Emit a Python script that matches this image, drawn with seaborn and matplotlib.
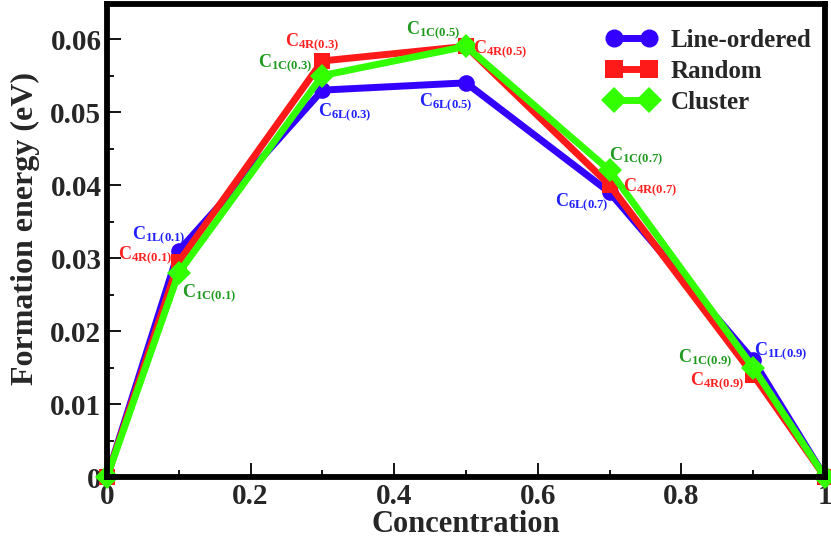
import numpy as np
import pandas as pd
import seaborn as sns
import matplotlib
matplotlib.use("Agg")
import matplotlib.pyplot as plt
from matplotlib.ticker import MultipleLocator, FixedLocator

# Formation energies (eV) versus concentration for the three configurations
concentration = [0.0, 0.1, 0.3, 0.5, 0.7, 0.9, 1.0]
line_ordered = [0.0, 0.031, 0.053, 0.054, 0.039, 0.016, 0.0]
random_cfg = [0.0, 0.0295, 0.057, 0.059, 0.040, 0.014, 0.0]
cluster_cfg = [0.0, 0.028, 0.055, 0.059, 0.042, 0.015, 0.0]

series_names = ["Line-ordered", "Random", "Cluster"]
line_colors = {"Line-ordered": "#3300ff", "Random": "#ff1a1a", "Cluster": "#33ff00"}
text_colors = {"Line-ordered": "#2222ff", "Random": "#ff2222", "Cluster": "#1f9a1f"}
markers = {"Line-ordered": "o", "Random": "s", "Cluster": "D"}

x_ticks = [0, 0.2, 0.4, 0.6, 0.8, 1.0]
x_tick_labels = ["0", "0.2", "0.4", "0.6", "0.8", "1"]
y_ticks = [0, 0.01, 0.02, 0.03, 0.04, 0.05, 0.06]
y_tick_labels = ["0", "0.01", "0.02", "0.03", "0.04", "0.05", "0.06"]

# Point labels: (series, concentration, label, offset in pixels)
point_labels = [
    ("Line-ordered", 0.1, "1L(0.1)", (-20, 16)),
    ("Random", 0.1, "4R(0.1)", (-34, 6)),
    ("Cluster", 0.1, "1C(0.1)", (30, -21)),
    ("Random", 0.3, "4R(0.3)", (-10, 19)),
    ("Cluster", 0.3, "1C(0.3)", (-37, 12)),
    ("Line-ordered", 0.3, "6L(0.3)", (22, -22)),
    ("Cluster", 0.5, "1C(0.5)", (-33, 16)),
    ("Random", 0.5, "4R(0.5)", (34, -3)),
    ("Line-ordered", 0.5, "6L(0.5)", (-20, -19)),
    ("Cluster", 0.7, "1C(0.7)", (26, 14)),
    ("Random", 0.7, "4R(0.7)", (40, -2)),
    ("Line-ordered", 0.7, "6L(0.7)", (-28, -10)),
    ("Line-ordered", 0.9, "1L(0.9)", (28, 9)),
    ("Cluster", 0.9, "1C(0.9)", (-48, 9)),
    ("Random", 0.9, "4R(0.9)", (-36, -6)),
]

values = {"Line-ordered": line_ordered, "Random": random_cfg, "Cluster": cluster_cfg}
df = pd.DataFrame({
    "Concentration": concentration * 3,
    "Energy": line_ordered + random_cfg + cluster_cfg,
    "Configuration": [n for n in series_names for _ in concentration],
})

sns.set_theme(style="white")
plt.rcParams["font.family"] = ["Liberation Serif", "DejaVu Serif"]
plt.rcParams["font.weight"] = "bold"
plt.rcParams["mathtext.fontset"] = "custom"
plt.rcParams["mathtext.rm"] = "Liberation Serif:bold"
plt.rcParams["mathtext.it"] = "Liberation Serif:bold"
plt.rcParams["mathtext.bf"] = "Liberation Serif:bold"

fig = plt.figure(figsize=(8.31, 5.42), dpi=100)
ax = fig.add_axes([107 / 831, 1 - 477 / 542, (825 - 107) / 831, (477 - 4) / 542])

sns.lineplot(
    data=df, x="Concentration", y="Energy", hue="Configuration", style="Configuration",
    hue_order=series_names, style_order=series_names, palette=line_colors,
    markers=markers, dashes=False, linewidth=5, markersize=12,
    markeredgewidth=0, ax=ax, clip_on=False, legend=True,
)

for name, xv, lab, off in point_labels:
    yv = values[name][concentration.index(xv)]
    ax.annotate(
        r"C$_{\mathrm{%s}}$" % lab, xy=(xv, yv), xytext=off, textcoords="offset pixels",
        ha="center", va="center", fontsize=13, fontweight="bold", color=text_colors[name],
    )

ax.set_xlim(0, 1)
ax.set_ylim(0, 0.0648)
ax.xaxis.set_major_locator(FixedLocator(x_ticks))
ax.set_xticklabels(x_tick_labels)
ax.yaxis.set_major_locator(FixedLocator(y_ticks))
ax.set_yticklabels(y_tick_labels)
ax.xaxis.set_minor_locator(MultipleLocator(0.1))
ax.yaxis.set_minor_locator(MultipleLocator(0.005))
ax.tick_params(which="both", direction="in", top=False, right=False, left=True, bottom=True,
               width=1.3, color="black", labelsize=21, pad=4)
ax.tick_params(which="major", length=10)
ax.tick_params(which="minor", length=5)
for lbl in ax.get_xticklabels() + ax.get_yticklabels():
    lbl.set_fontweight("bold")

ax.set_xlabel("Concentration", fontsize=22, fontweight="bold", labelpad=0)
ax.set_ylabel("Formation energy (eV)", fontsize=23, fontweight="bold")
ax.yaxis.set_label_coords(-0.114, 0.525)
ax.yaxis.label.set_va("center")

for sp in ax.spines.values():
    sp.set_linewidth(4.2)
    sp.set_color("black")
    sp.set_zorder(5)

handles, labels = ax.get_legend_handles_labels()
leg = ax.legend(handles, labels, loc="upper right", bbox_to_anchor=(1.012, 0.995),
                frameon=False, numpoints=2, handlelength=2.0, handletextpad=0.55,
                labelspacing=0.32, prop={"family": "Liberation Serif", "weight": "bold", "size": 18})
for h in leg.legend_handles:
    h.set_markersize(13)
    h.set_linewidth(5)

fig.savefig("out.png", dpi=100)
